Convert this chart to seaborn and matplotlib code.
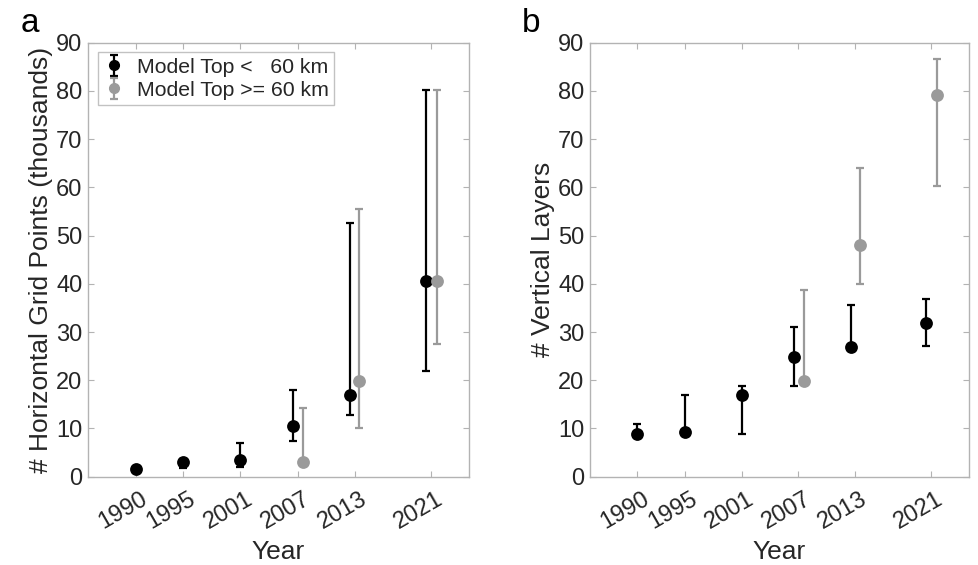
import numpy as np
import pandas as pd
import matplotlib
matplotlib.use("Agg")
import matplotlib.pyplot as plt
import matplotlib.transforms as mtrans
import seaborn as sns

# ---------------- data ----------------
tick_years = [1990, 1995, 2001, 2007, 2013, 2021]

# Model top < 60 km (black)
low_x = [1990, 1995, 2001, 2006.5, 2012.5, 2020.5]
low_grid = [1.6, 3.1, 3.5, 10.5, 17.0, 40.6]
low_grid_lo = [1.2, 1.8, 2.1, 7.5, 12.8, 22.0]
low_grid_hi = [2.0, 3.6, 6.9, 17.9, 52.7, 80.1]
low_lev = [8.9, 9.3, 16.9, 24.9, 26.9, 31.9]
low_lev_lo = [8.9, 9.3, 8.8, 18.9, 26.9, 27.0]
low_lev_hi = [10.9, 16.9, 18.9, 31.0, 35.7, 36.8]

# Model top >= 60 km (grey)
high_x = [2007.6, 2013.5, 2021.6]
high_grid = [3.0, 19.9, 40.6]
high_grid_lo = [3.0, 10.0, 27.6]
high_grid_hi = [14.2, 55.5, 80.1]
high_lev = [19.9, 48.0, 79.1]
high_lev_lo = [19.9, 39.9, 60.3]
high_lev_hi = [38.8, 64.1, 86.6]

labels = ["Model Top <   60 km", "Model Top >= 60 km"]
colors = ["#000000", "#9a9a9a"]

# ---------------- style ----------------
sns.set_theme(style="white")
plt.rcParams["font.family"] = ["Liberation Sans", "DejaVu Sans"]
spine_col = "#b3b3b3"
text_col = "#262626"

fig = plt.figure(figsize=(9.79, 5.65), dpi=100)
axA = fig.add_axes([0.0899, 0.1563, 0.3892, 0.7681])
axB = fig.add_axes([0.6027, 0.1563, 0.3871, 0.7681])


def draw(ax, series, ylabel):
    for (x, y, lo, hi), lab, col in zip(series, labels, colors):
        x = np.asarray(x); y = np.asarray(y)
        yerr = np.vstack([y - np.asarray(lo), np.asarray(hi) - y])
        ax.errorbar(x, y, yerr=yerr, fmt="none", ecolor=col, elinewidth=1.6,
                    capsize=2.6, capthick=1.6, zorder=2)
        df = pd.DataFrame({"Year": x, "val": y})
        sns.scatterplot(data=df, x="Year", y="val", ax=ax, color=col, s=85,
                        edgecolor=col, linewidth=0, zorder=3, legend=False)
    ax.set_xlim(1985, 2025)
    ax.set_ylim(0, 90)
    ax.set_yticks(np.arange(0, 91, 10))
    ax.set_xticks(tick_years)
    ax.set_xticklabels([str(t) for t in tick_years], rotation=30, ha="right",
                       va="top", rotation_mode="anchor")
    ax.tick_params(axis="both", direction="in", length=4, width=0.8,
                   color=spine_col, labelsize=17, labelcolor=text_col,
                   top=True, right=True, bottom=True, left=True)
    ax.tick_params(axis="x", pad=8, labelsize=17)
    ax.tick_params(axis="y", pad=4)
    shift = mtrans.ScaledTranslation(5 / 100, 0, fig.dpi_scale_trans)
    for lbl in ax.get_xticklabels():
        lbl.set_transform(lbl.get_transform() + shift)
    for s in ax.spines.values():
        s.set_color(spine_col)
        s.set_linewidth(1.0)
    ax.set_xlabel("Year", fontsize=19, color=text_col, labelpad=5)
    ax.set_ylabel(ylabel, fontsize=19, color=text_col, labelpad=2)
    ax.grid(False)


draw(axA,
     [(low_x, low_grid, low_grid_lo, low_grid_hi),
      (high_x, high_grid, high_grid_lo, high_grid_hi)],
     "# Horizontal Grid Points (thousands)")
draw(axB,
     [(low_x, low_lev, low_lev_lo, low_lev_hi),
      (high_x, high_lev, high_lev_lo, high_lev_hi)],
     "# Vertical Layers")

# legend with errorbar proxies
handles = []
for lab, col in zip(labels, colors):
    h = axA.errorbar([np.nan], [np.nan], yerr=[[1], [1]], fmt="o", color=col,
                     ecolor=col, markersize=7, elinewidth=1.6, capsize=2.6,
                     capthick=1.6, label=lab)
    handles.append(h)
leg = axA.legend(handles=handles, loc="upper left", fontsize=15.3,
                 frameon=True, fancybox=False, edgecolor=spine_col,
                 borderpad=0.25, handlelength=1.0, handletextpad=0.6,
                 labelspacing=0.2, borderaxespad=0.45)
leg.get_frame().set_linewidth(1.0)
for t in leg.get_texts():
    t.set_color(text_col)

fig.text(0.031, 0.959, "a", fontsize=24, color="#000000", va="center",
         ha="center")
fig.text(0.542, 0.959, "b", fontsize=24, color="#000000", va="center",
         ha="center")

fig.savefig("out.png", dpi=100, facecolor="white")
